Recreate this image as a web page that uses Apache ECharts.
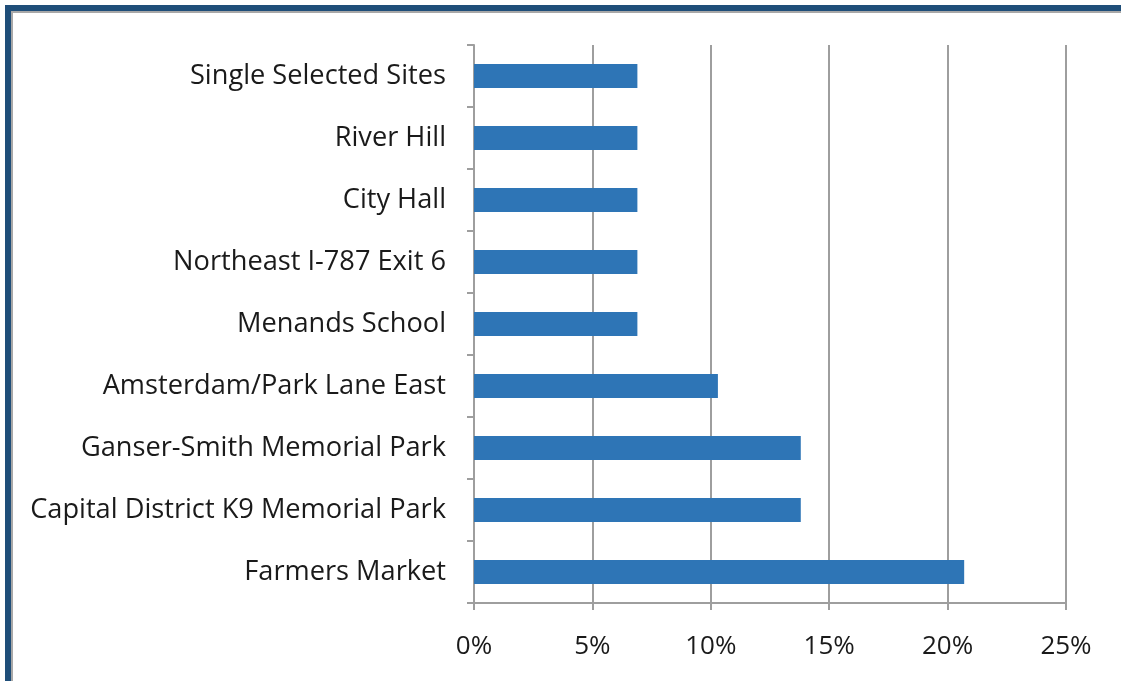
<!DOCTYPE html>
<html>
<head>
<meta charset="utf-8">
<script src="https://cdn.jsdelivr.net/npm/echarts@6/dist/echarts.min.js"></script>
<style>
html,body{margin:0;padding:0;background:#fff;}
#frame{position:absolute;left:5px;top:5px;width:1116px;height:676px;border-left:6px solid #1F4E79;border-top:6px solid #1F4E79;box-sizing:border-box;}
#inner{position:absolute;left:11px;top:11px;width:1110px;height:670px;border-left:2px solid #A8A8A8;border-top:2px solid #A8A8A8;box-sizing:border-box;}
#chart{position:absolute;left:0;top:0;width:1121px;height:681px;}
</style>
</head>
<body>
<div id="frame"></div>
<div id="inner"></div>
<div id="chart"></div>
<script>
const categories = [
  "Farmers Market",
  "Capital District K9 Memorial Park",
  "Ganser-Smith Memorial Park",
  "Amsterdam/Park Lane East",
  "Menands School",
  "Northeast I-787 Exit 6",
  "City Hall",
  "River Hill",
  "Single Selected Sites"
];
const values = [20.7, 13.8, 13.8, 10.3, 6.9, 6.9, 6.9, 6.9, 6.9];
const xTicks = [0, 5, 10, 15, 20, 25];

const chart = echarts.init(document.getElementById('chart'), null, {renderer: 'canvas'});
chart.setOption({
  backgroundColor: 'transparent',
  animation: false,
  grid: {left: 474, right: 55, top: 45, bottom: 78, containLabel: false},
  xAxis: {
    type: 'value',
    min: xTicks[0],
    max: xTicks[xTicks.length - 1],
    interval: 5,
    axisLine: {show: true, lineStyle: {color: '#9E9E9E', width: 2}},
    axisTick: {show: true, length: 7, lineStyle: {color: '#9E9E9E', width: 2}},
    splitLine: {show: true, lineStyle: {color: '#9E9E9E', width: 2}},
    axisLabel: {
      formatter: v => v + '%',
      fontFamily: 'Open Sans',
      fontSize: 26,
      color: '#1a1a1a',
      margin: 31
    }
  },
  yAxis: {
    type: 'category',
    data: categories,
    axisLine: {show: true, lineStyle: {color: '#9E9E9E', width: 2}},
    axisTick: {show: true, length: 7, lineStyle: {color: '#9E9E9E', width: 2}},
    splitLine: {show: false},
    axisLabel: {
      fontFamily: 'Open Sans',
      fontSize: 27.2,
      color: '#1a1a1a',
      margin: 28,
      padding: [4, 0, 0, 0]
    }
  },
  series: [{
    type: 'bar',
    data: values,
    barWidth: 24,
    itemStyle: {color: '#2E75B6'}
  }]
});
</script>
</body>
</html>
